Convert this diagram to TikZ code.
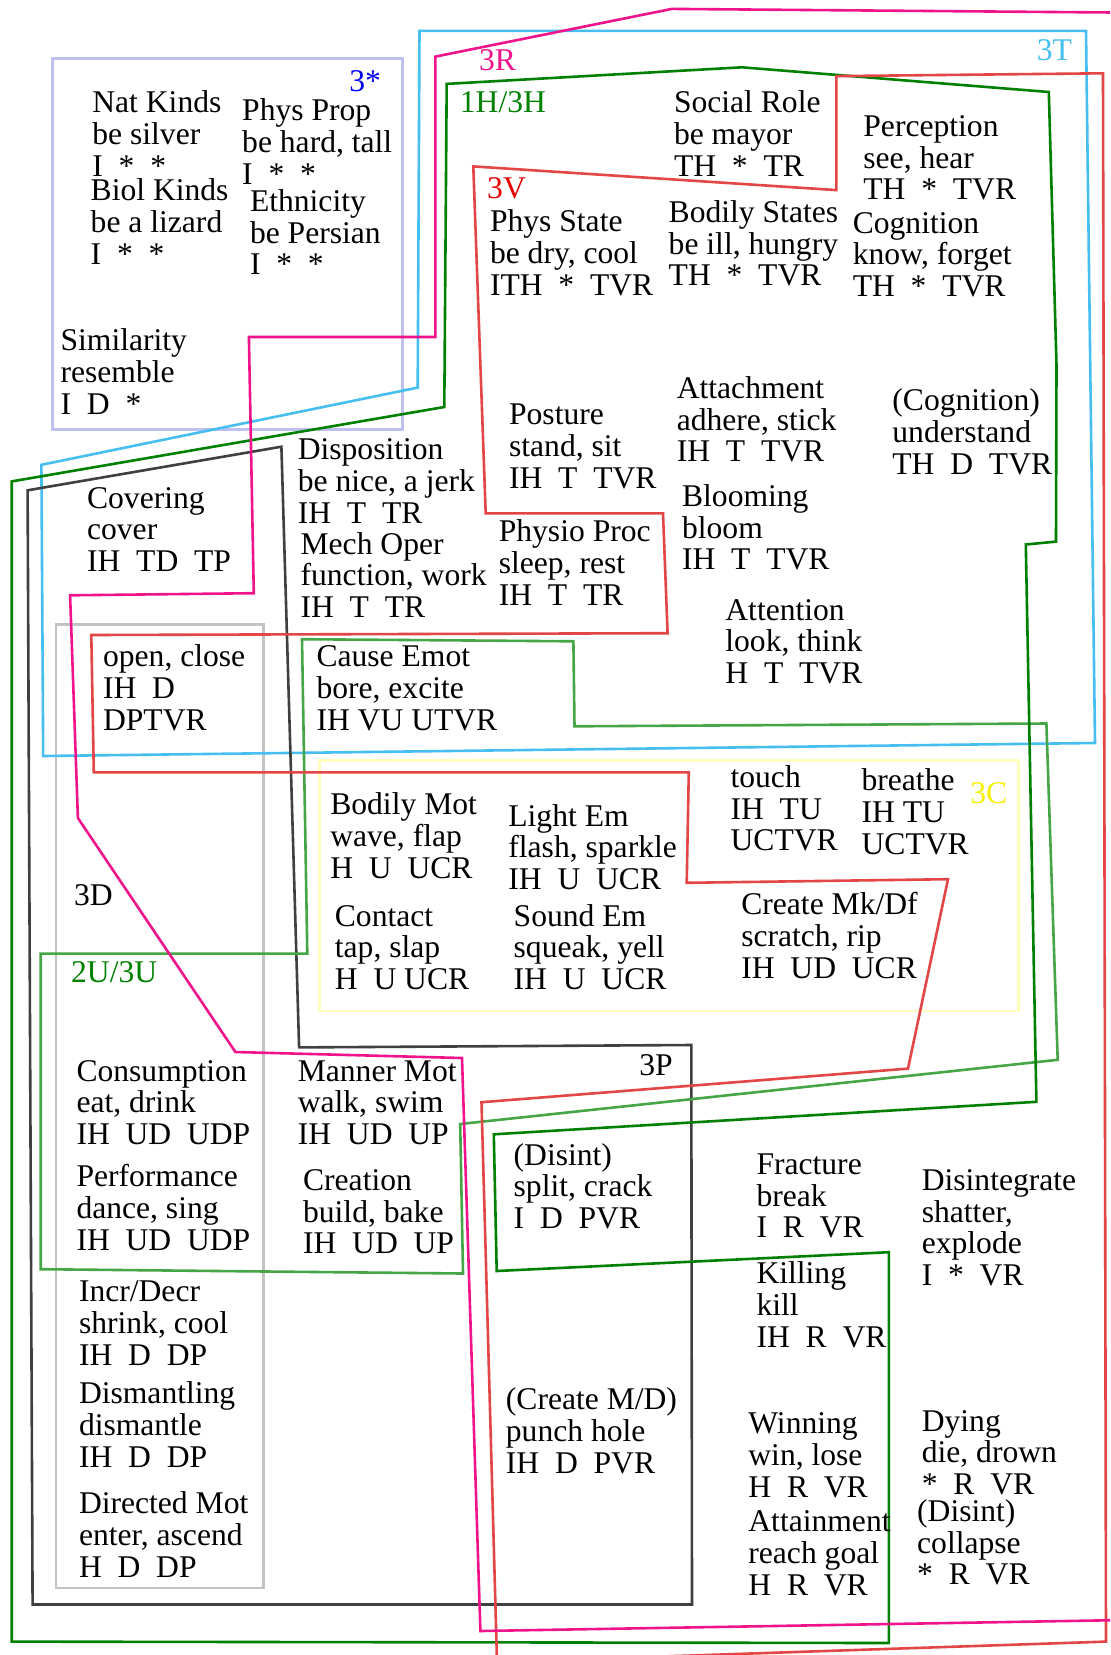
\documentclass[tikz,border=0pt]{standalone}
\usepackage{fontspec}
\setmainfont{Liberation Serif}
\newcommand\blk[1]{\begin{tabular}[t]{@{}l@{}}#1\end{tabular}}
\definecolor{cLav}{RGB}{192,192,240}
\definecolor{cCyan}{RGB}{70,190,240}
\definecolor{cPink}{RGB}{240,20,140}
\definecolor{cRed}{RGB}{226,70,70}
\definecolor{cRedLbl}{RGB}{230,0,0}
\definecolor{cDGreen}{RGB}{0,128,0}
\definecolor{cLGreen}{RGB}{70,165,70}
\definecolor{cDGray}{RGB}{64,64,64}
\definecolor{cLGray}{RGB}{195,195,195}
\definecolor{cPaleY}{RGB}{255,255,190}
\definecolor{cYel}{RGB}{245,240,0}
\definecolor{cBlue}{RGB}{0,0,240}
\begin{document}
\begin{tikzpicture}[x=0.5pt,y=-0.5pt,
  lbl/.style={inner sep=0pt, anchor=base west, font=\fontsize{15.8}{15.9}\selectfont},
  region/.style={line width=1.3pt, line join=miter}]
\useasboundingbox (0,0) rectangle (1110,1655);
\clip (0,0) rectangle (1110,1655);
\fill[white] (0,0) rectangle (1110,1655);

% regions
\draw[region, cLav] (52.4,58.4) rectangle (402.5,429.4);
\draw[region, cLGray] (55.9,624.3) rectangle (263.7,1587.8);
\draw[region, cPaleY] (319.7,760.6) rectangle (1018.7,1010.9);
\draw[region, cCyan] (419.5,30.8) -- (1086,30.8) -- (1095,743) -- (43.2,756) -- (41.4,464.8) -- (417.7,387.6) -- cycle;
\draw[region, cDGray] (281.4,446.7) -- (299.1,1047.4) -- (691.3,1045) -- (692,1604.5) -- (32.6,1604.5) -- (27.6,490.3) -- cycle;
\draw[region, cLGreen] (302,639.2) -- (573.4,641.3) -- (574.5,726.3) -- (1046.4,723.5) -- (1057.7,1059.8) -- (460.2,1124) -- (463,1273.5) -- (40.7,1269.2) -- (40.7,953.6) -- (307.3,953.6) -- cycle;
\draw[region, cDGreen] (446.7,83.9) -- (742,67.3) -- (1048.8,92) -- (1056.5,365) -- (1056,541.6) -- (1025.8,544.5) -- (1036.4,1101.8) -- (493.8,1134.3) -- (496.7,1271) -- (888.8,1252.2) -- (888.8,1643) -- (11.7,1641.6) -- (11.7,481.4) -- (444.3,407) -- cycle;
\draw[region, cRed] (473.3,166.4) -- (836.4,190.1) -- (836.4,76.1) -- (1103,73.3) -- (1106,1641.6) -- (497,1662) -- (481.5,1102.2) -- (908,1068.6) -- (948,879.2) -- (686.7,882.8) -- (688.8,772.3) -- (93.8,772.3) -- (91.3,635) -- (667.6,633.2) -- (663,513.3) -- (485.7,513.3) -- cycle;
\draw[region, cPink] (435.4,56.6) -- (671.8,8.9) -- (1125,12.6) -- (1125,1620) -- (480.4,1631) -- (462,1058) -- (235.4,1052) -- (77.9,818) -- (70.1,595.3) -- (253.8,593.2) -- (248.9,337) -- (435.4,337) -- cycle;

% region labels
\node[lbl, text=cBlue] (l3s) at (349,91) {3*};
\node[lbl, text=cPink] (l3r) at (478.6,70.8) {3R};
\node[lbl, text=cDGreen] (l1h) at (459.5,112.6) {1H/3H};
\node[lbl, text=cRedLbl] (l3v) at (486.8,198) {3V};
\node[lbl, text=cCyan] (l3t) at (1036.4,60.2) {3T};
\node[lbl] (l3d) at (73.6,905.8) {3D};
\node[lbl, text=cDGreen] (l2u) at (70.8,982.6) {2U/3U};
\node[lbl, text=cYel] (l3c) at (969.9,803.1) {3C};
\node[lbl] (l3p) at (639,1075.7) {3P};

% text blocks
\node[lbl] (natkinds) at (92,112.6) {\blk{Nat Kinds\\be silver\\I~~*~~*}};
\node[lbl] (physprop) at (241.8,120.4) {\blk{Phys Prop\\be hard, tall\\I~~*~~*}};
\node[lbl] (biolkinds) at (90.3,200.7) {\blk{Biol Kinds\\be a lizard\\I~~*~~*}};
\node[lbl] (ethnicity) at (249.6,211.3) {\blk{Ethnicity\\be Persian\\I~~*~~*}};
\node[lbl] (similarity) at (60.2,350.5) {\blk{Similarity\\resemble\\I~~D~~*}};
\node[lbl] (socialrole) at (673.6,112.6) {\blk{Social Role\\be mayor\\TH~~*~~TR}};
\node[lbl] (perception) at (863,136.3) {\blk{Perception\\see, hear\\TH~~*~~TVR}};
\node[lbl] (physstate) at (489.6,231.9) {\blk{Phys State\\be dry, cool\\ITH~~*~~TVR}};
\node[lbl] (bodilystates) at (668.3,222.3) {\blk{Bodily States\\be ill, hungry\\TH~~*~~TVR}};
\node[lbl] (cognition) at (852.4,233) {\blk{Cognition\\know, forget\\TH~~*~~TVR}};
\node[lbl] (posture) at (508.7,424.8) {\blk{Posture\\stand, sit\\IH~~T~~TVR}};
\node[lbl] (attachment) at (676.4,398.3) {\blk{Attachment\\adhere, stick\\IH~~T~~TVR}};
\node[lbl] (cognition2) at (892,410.6) {\blk{(Cognition)\\understand\\TH~~D~~TVR}};
\node[lbl] (blooming) at (681.7,506.2) {\blk{Blooming\\bloom\\IH~~T~~TVR}};
\node[lbl] (physio) at (498.4,541.6) {\blk{Physio Proc\\sleep, rest\\IH~~T~~TR}};
\node[lbl] (attention) at (725,620) {\blk{Attention\\look, think\\H~~T~~TVR}};
\node[lbl] (disposition) at (297.4,459.5) {\blk{Disposition\\be nice, a jerk\\IH~~T~~TR}};
\node[lbl] (mechoper) at (300.2,554) {\blk{Mech Oper\\function, work\\IH~~T~~TR}};
\node[lbl] (covering) at (86.7,508) {\blk{Covering\\cover\\IH~~TD~~TP}};
\node[lbl] (openclose) at (102.7,666.8) {\blk{open, close\\IH~~D\\DPTVR}};
\node[lbl] (causeemot) at (316.1,666.8) {\blk{Cause Emot\\bore, excite\\IH VU UTVR}};
\node[lbl] (bodilymot) at (329.9,814.8) {\blk{Bodily Mot\\wave, flap\\H~~U~~UCR}};
\node[lbl] (lightem) at (508,826.1) {\blk{Light Em\\flash, sparkle\\IH~~U~~UCR}};
\node[lbl] (touch) at (730.2,787.2) {\blk{touch\\IH~~TU\\UCTVR}};
\node[lbl] (breathe) at (861.2,790.7) {\blk{breathe\\IH TU\\UCTVR}};
\node[lbl] (contact) at (334.5,926) {\blk{Contact\\tap, slap\\H~~U UCR}};
\node[lbl] (soundem) at (513.3,926) {\blk{Sound Em\\squeak, yell\\IH~~U~~UCR}};
\node[lbl] (createmk) at (740.9,914.6) {\blk{Create Mk/Df\\scratch, rip\\IH~~UD~~UCR}};
\node[lbl] (consumption) at (76.1,1081) {\blk{Consumption\\eat, drink\\IH~~UD~~UDP}};
\node[lbl] (mannermot) at (297.4,1081) {\blk{Manner Mot\\walk, swim\\IH~~UD~~UP}};
\node[lbl] (performance) at (76.1,1186.7) {\blk{Performance\\dance, sing\\IH~~UD~~UDP}};
\node[lbl] (creation) at (302.7,1190.3) {\blk{Creation\\build, bake\\IH~~UD~~UP}};
\node[lbl] (incrdecr) at (78.6,1301.8) {\blk{Incr/Decr\\shrink, cool\\IH~~D~~DP}};
\node[lbl] (dismantling) at (78.6,1403.7) {\blk{Dismantling\\dismantle\\IH~~D~~DP}};
\node[lbl] (directedmot) at (78.6,1513.5) {\blk{Directed Mot\\enter, ascend\\H~~D~~DP}};
\node[lbl] (disint1) at (513.3,1165) {\blk{(Disint)\\split, crack\\I~~D~~PVR}};
\node[lbl] (createmd) at (505.5,1409.8) {\blk{(Create M/D)\\punch hole\\IH~~D~~PVR}};
\node[lbl] (fracture) at (756.1,1174.3) {\blk{Fracture\\break\\I~~R~~VR}};
\node[lbl] (disintegrate) at (921.4,1190.3) {\blk{Disintegrate\\shatter,\\explode\\I~~*~~VR}};
\node[lbl] (killing) at (756.1,1283.4) {\blk{Killing\\kill\\IH~~R~~VR}};
\node[lbl] (winning) at (748,1433.8) {\blk{Winning\\win, lose\\H~~R~~VR}};
\node[lbl] (attainment) at (748,1531.9) {\blk{Attainment\\reach goal\\H~~R~~VR}};
\node[lbl] (dying) at (921.4,1431) {\blk{Dying\\die, drown\\{}*~~R~~VR}};
\node[lbl] (disint2) at (916.8,1521.3) {\blk{(Disint)\\collapse\\{}*~~R~~VR}};
\end{tikzpicture}
\end{document}
